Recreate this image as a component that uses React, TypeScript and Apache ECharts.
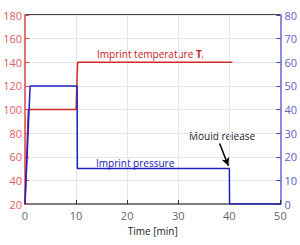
import React, { useEffect, useRef } from "react";
import * as echarts from "echarts";

const temperature: [number, number][] = [
  [0, 20], [0.65, 100], [10, 100], [10.3, 140], [40.6, 140],
];
const pressure: [number, number][] = [
  [0, 0], [1.0, 50], [10.2, 50], [10.25, 15], [40, 15], [40.05, 0], [50, 0],
];
const arrowFrom: [number, number] = [38.1, 25.6];
const arrowTo: [number, number] = [39.8, 16.2];

export default function App() {
  const ref = useRef<HTMLDivElement>(null);
  useEffect(() => {
    const chart = echarts.init(ref.current!, null, { renderer: "svg" });
    const font = "Open Sans";
    chart.setOption({
      animation: false,
      textStyle: { fontFamily: font },
      grid: { left: 25, right: 19, top: 15, bottom: 41 },
      xAxis: {
        type: "value", min: 0, max: 50, interval: 10,
        name: "Time [min]", nameLocation: "middle", nameGap: 20,
        nameTextStyle: { color: "#222", fontSize: 10, fontFamily: font },
        axisLine: { show: true, lineStyle: { color: "#555", width: 1.5 } },
        axisTick: { show: true, inside: true, length: 4, lineStyle: { color: "#333" } },
        axisLabel: { color: "#666", fontSize: 11, margin: 6, fontFamily: font },
        splitLine: { show: true, lineStyle: { color: "#e6e6e6" } },
      },
      yAxis: [
        {
          type: "value", min: 20, max: 180, interval: 20, position: "left",
          axisLine: { show: true, lineStyle: { color: "#d84848", width: 1.5 } },
          axisTick: { show: true, inside: true, length: 4, lineStyle: { color: "#d84848" } },
          axisLabel: { color: "#e06060", fontSize: 11, margin: 3, fontFamily: font },
          splitLine: { show: true, lineStyle: { color: "#e6e6e6" } },
        },
        {
          type: "value", min: 0, max: 80, interval: 10, position: "right",
          axisLine: { show: true, lineStyle: { color: "#8a8ae0", width: 2 } },
          axisTick: { show: true, inside: true, length: 4, lineStyle: { color: "#4040a0" } },
          axisLabel: { color: "#6060c8", fontSize: 11, margin: 4, fontFamily: font },
          splitLine: { show: false },
        },
      ],
      series: [
        {
          type: "line", yAxisIndex: 0, data: temperature, symbol: "none",
          lineStyle: { color: "#d42828", width: 1.5 },
        },
        {
          type: "line", yAxisIndex: 1, data: pressure, symbol: "none",
          lineStyle: { color: "#2020c0", width: 1.5 },
          markLine: {
            silent: true, symbol: ["none", "arrow"], symbolSize: [6, 8],
            label: { show: false },
            lineStyle: { color: "#000", width: 1.5, type: "solid" },
            data: [[{ coord: arrowFrom }, { coord: arrowTo }]],
          },
        },
      ],
      graphic: [
        { type: "line", shape: { x1: 25, y1: 15, x2: 281, y2: 15 }, style: { stroke: "#111", lineWidth: 1.5 } },
        {
          type: "text", x: 97, y: 54,
          style: {
            text: "{a|Imprint temperature }{b|T}{c|i}",
            textVerticalAlign: "middle",
            rich: {
              a: { fill: "#c82020", fontSize: 10, fontFamily: font },
              b: { fill: "#c82020", fontSize: 10, fontWeight: "bold", fontFamily: font },
              c: { fill: "#c82020", fontSize: 6, fontFamily: font, padding: [6, 0, 0, 0] },
            },
          },
        },
        {
          type: "text", x: 96, y: 162.5,
          style: { text: "Imprint pressure", fill: "#2020b0", fontSize: 10, fontFamily: font, textVerticalAlign: "middle" },
        },
        {
          type: "text", x: 189, y: 136,
          style: { text: "Mould release", fill: "#222", fontSize: 10, fontFamily: font, textVerticalAlign: "middle" },
        },
      ],
    });
    return () => chart.dispose();
  }, []);
  return <div ref={ref} style={{ width: 300, height: 245, position: "absolute", left: 0, top: 0 }} />;
}
